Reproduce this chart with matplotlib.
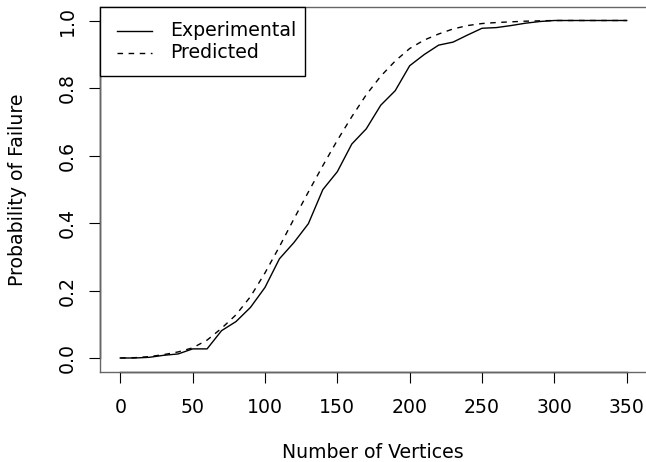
import matplotlib
matplotlib.use("Agg")
import matplotlib.pyplot as plt
from matplotlib.patches import Rectangle
from matplotlib.lines import Line2D

vertices = [0, 10, 20, 30, 40, 50, 60, 70, 80, 90, 100, 110, 120, 130, 140, 150, 160, 170,
            180, 190, 200, 210, 220, 230, 240, 250, 260, 270, 280, 290, 300, 310, 320, 330, 340, 350]
experimental = [0.0, 0.0, 0.002, 0.008, 0.012, 0.027, 0.027, 0.081, 0.108, 0.150, 0.209, 0.294,
                0.342, 0.398, 0.499, 0.552, 0.634, 0.679, 0.749, 0.792, 0.866, 0.899, 0.927, 0.936,
                0.957, 0.977, 0.979, 0.985, 0.992, 0.997, 1.0, 1.0, 1.0, 1.0, 1.0, 1.0]
predicted = [0.0, 0.001, 0.004, 0.010, 0.018, 0.030, 0.053, 0.088, 0.128, 0.182, 0.252, 0.330,
             0.412, 0.492, 0.570, 0.645, 0.715, 0.780, 0.835, 0.880, 0.917, 0.942, 0.960, 0.975,
             0.985, 0.991, 0.994, 0.996, 0.998, 0.999, 1.0, 1.0, 1.0, 1.0, 1.0, 1.0]
xticks = [0, 50, 100, 150, 200, 250, 300, 350]
yticks = [0.0, 0.2, 0.4, 0.6, 0.8, 1.0]
legend_labels = ['Experimental', 'Predicted']

W, H = 646, 462
FS = 13.6
plt.rcParams['font.family'] = ['DejaVu Sans']
fig = plt.figure(figsize=(W / 100, H / 100), dpi=100)
ax = fig.add_axes([100/W, (H-371.5)/H, 547/W, 364.5/H])
ax.plot(vertices, experimental, color='black', lw=1.0)
ax.plot(vertices, predicted, color='black', lw=1.0, dashes=(4, 4))
ax.set_xlim(-14, 364)
ax.set_ylim(-0.04, 1.04)

for s in ax.spines.values():
    s.set_color('#666666')
    s.set_linewidth(1.0)
# R-style axis lines
ax.plot([0, 350], [-0.04, -0.04], color='black', lw=1.0, clip_on=False)
ax.plot([-14, -14], [0, 1], color='black', lw=1.0, clip_on=False)

ax.set_xticks(xticks)
ax.set_xticklabels([str(v) for v in xticks])
ax.set_yticks(yticks)
ax.set_yticklabels([f"{v:.1f}" for v in yticks], rotation=90, va='center')
ax.tick_params(axis='both', labelsize=FS, length=8, width=0.8, color='black')
ax.tick_params(axis='x', pad=11)
ax.tick_params(axis='y', pad=9)

fig.text(18/W, 1 - 190/H, 'Probability of Failure', rotation=90, ha='center', va='center', fontsize=FS)
fig.text(373/W, 1 - 452/H, 'Number of Vertices', ha='center', va='center', fontsize=FS)

# R-style legend box in the top-left corner
def fx(px):
    return px / W
def fy(py):
    return 1 - py / H

fig.add_artist(Rectangle((fx(100), fy(76)), fx(305) - fx(100), fy(7) - fy(76),
                         transform=fig.transFigure, fill=True, facecolor='white',
                         edgecolor='black', lw=1.0, zorder=5))
styles = [dict(), dict(dashes=(4, 4))]
for i, (lab, st) in enumerate(zip(legend_labels, styles)):
    yy = 31 + 22 * i
    fig.add_artist(Line2D([fx(117), fx(152)], [fy(yy), fy(yy)], transform=fig.transFigure,
                          color='black', lw=1.0, zorder=6, **st))
    fig.text(fx(170), fy(yy), lab, ha='left', va='center', fontsize=FS, zorder=6)

fig.savefig('out.png', dpi=100)
